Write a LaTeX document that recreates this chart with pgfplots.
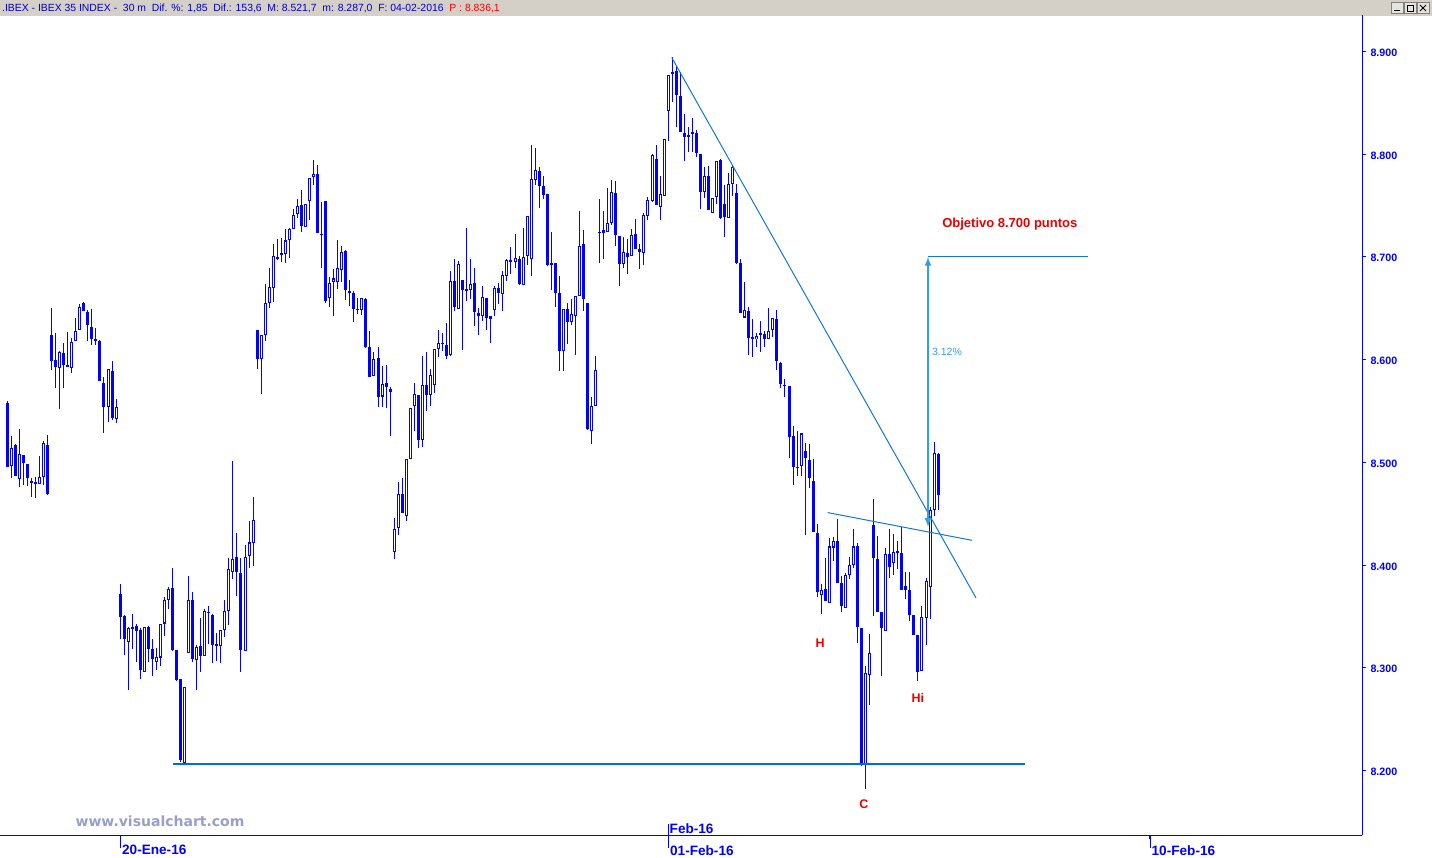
\documentclass[border=0pt]{standalone}
\usepackage{fontspec}
\setmainfont{Liberation Sans}
\newfontfamily\dejavu{DejaVu Sans}
\usepackage{pgfplots}
\usepackage{pgfplotstable}
\pgfplotsset{compat=1.18}
\definecolor{cblue}{RGB}{0,0,255}
\definecolor{tline}{RGB}{20,120,210}
\definecolor{sline}{RGB}{0,112,200}
\definecolor{lblue}{RGB}{51,160,230}
\definecolor{rred}{RGB}{230,0,0}
\definecolor{bargray}{RGB}{212,208,200}
\definecolor{wm}{RGB}{150,160,200}
\definecolor{ttl}{RGB}{0,0,200}

\pgfplotstableread{
i o h l c
0 8558 8560 8495 8495
1 8496 8526 8485 8514
2 8517 8518 8487 8487
3 8484 8532 8476 8508
4 8507 8507 8478 8499
5 8498 8498 8477 8485
6 8481 8485 8466 8481
7 8479 8486 8465 8481
8 8479 8506 8479 8486
9 8486 8521 8478 8519
10 8517 8527 8468 8469
11 8624 8650 8590 8599
12 8600 8626 8572 8593
13 8592 8608 8552 8607
14 8606 8616 8572 8595
15 8594 8627 8593 8594
16 8592 8621 8587 8617
17 8618 8640 8618 8628
18 8629 8654 8629 8651
19 8655 8656 8647 8647
20 8646 8648 8618 8634
21 8632 8649 8614 8620
22 8619 8631 8614 8619
23 8618 8619 8579 8579
24 8577 8583 8528 8554
25 8554 8591 8539 8591
26 8589 8599 8541 8543
27 8542 8562 8538 8554
28 8372 8381 8328 8349
29 8350 8351 8312 8328
30 8325 8340 8278 8339
31 8338 8352 8318 8340
32 8341 8343 8306 8336
33 8337 8339 8289 8298
34 8296 8340 8296 8340
35 8340 8341 8306 8318
36 8318 8328 8292 8309
37 8306 8319 8298 8310
38 8310 8343 8302 8343
39 8343 8369 8331 8366
40 8366 8379 8357 8377
41 8378 8397 8316 8317
42 8317 8317 8287 8288
43 8289 8289 8208 8210
44 8207 8281 8206 8281
45 8314 8389 8314 8366
46 8366 8374 8306 8308
47 8308 8322 8278 8320
48 8321 8348 8296 8311
49 8311 8357 8311 8355
50 8354 8360 8323 8354
51 8351 8352 8305 8322
52 8321 8334 8307 8323
53 8321 8337 8305 8337
54 8337 8366 8330 8355
55 8355 8407 8342 8396
56 8393 8501 8386 8406
57 8408 8431 8370 8393
58 8392 8407 8296 8317
59 8316 8420 8316 8408
60 8409 8443 8397 8422
61 8421 8466 8399 8444
62 8629 8629 8591 8601
63 8601 8624 8566 8624
64 8624 8674 8618 8655
65 8655 8689 8650 8671
66 8670 8712 8656 8701
67 8699 8717 8697 8699
68 8703 8718 8695 8703
69 8703 8727 8694 8716
70 8716 8728 8699 8727
71 8727 8747 8727 8741
72 8742 8756 8738 8750
73 8750 8765 8724 8730
74 8729 8752 8729 8752
75 8754 8777 8736 8777
76 8778 8794 8770 8781
77 8781 8789 8723 8723
78 8722 8753 8689 8722
79 8754 8754 8655 8657
80 8660 8680 8651 8675
81 8676 8688 8642 8679
82 8676 8716 8669 8689
83 8687 8711 8676 8705
84 8706 8707 8658 8668
85 8666 8678 8652 8666
86 8665 8667 8637 8649
87 8649 8660 8644 8649
88 8648 8660 8643 8660
89 8659 8660 8611 8612
90 8612 8628 8583 8583
91 8584 8607 8584 8601
92 8602 8612 8554 8564
93 8564 8594 8554 8576
94 8577 8595 8553 8573
95 8571 8573 8526 8568
96 8413 8446 8406 8435
97 8436 8481 8429 8469
98 8469 8485 8451 8451
99 8448 8503 8443 8503
100 8503 8553 8503 8553
101 8555 8577 8530 8566
102 8566 8566 8514 8522
103 8522 8604 8515 8575
104 8575 8607 8550 8565
105 8565 8591 8555 8585
106 8575 8610 8568 8610
107 8610 8629 8603 8616
108 8616 8626 8608 8616
109 8614 8636 8601 8604
110 8604 8686 8604 8676
111 8676 8698 8647 8651
112 8649 8696 8649 8693
113 8677 8677 8609 8668
114 8668 8728 8657 8668
115 8668 8698 8659 8674
116 8675 8689 8633 8646
117 8645 8650 8624 8642
118 8642 8672 8638 8661
119 8660 8660 8629 8641
120 8640 8642 8616 8642
121 8648 8672 8642 8670
122 8670 8675 8654 8665
123 8664 8686 8647 8682
124 8681 8698 8676 8697
125 8696 8710 8683 8696
126 8695 8722 8689 8699
127 8698 8701 8673 8674
128 8673 8728 8673 8700
129 8701 8740 8692 8740
130 8698 8809 8681 8776
131 8775 8806 8770 8785
132 8784 8788 8748 8769
133 8769 8779 8756 8760
134 8761 8761 8691 8692
135 8692 8724 8668 8694
136 8694 8694 8651 8665
137 8665 8681 8589 8608
138 8608 8649 8589 8649
139 8649 8655 8615 8637
140 8637 8659 8634 8644
141 8642 8662 8604 8662
142 8662 8745 8662 8711
143 8712 8726 8647 8659
144 8655 8655 8531 8532
145 8530 8564 8518 8555
146 8555 8603 8555 8590
147 8724 8756 8694 8724
148 8726 8745 8698 8723
149 8724 8767 8724 8733
150 8733 8775 8731 8763
151 8762 8774 8711 8721
152 8720 8720 8672 8693
153 8693 8719 8689 8705
154 8704 8717 8683 8700
155 8701 8727 8701 8721
156 8722 8737 8708 8708
157 8708 8712 8688 8705
158 8704 8743 8692 8741
159 8740 8758 8736 8755
160 8754 8800 8753 8799
161 8795 8809 8751 8751
162 8749 8779 8736 8761
163 8759 8815 8759 8815
164 8842 8877 8813 8877
165 8880 8895 8851 8878
166 8881 8886 8826 8858
167 8857 8880 8822 8822
168 8821 8839 8793 8817
169 8817 8826 8802 8819
170 8821 8835 8802 8820
171 8821 8823 8797 8801
172 8800 8800 8747 8763
173 8763 8788 8757 8779
174 8779 8788 8746 8746
175 8743 8757 8743 8757
176 8758 8793 8752 8793
177 8794 8795 8737 8738
178 8751 8770 8719 8739
179 8738 8782 8738 8771
180 8771 8789 8759 8788
181 8762 8771 8693 8694
182 8694 8698 8645 8645
183 8641 8675 8641 8648
184 8647 8651 8604 8621
185 8622 8639 8602 8621
186 8620 8626 8612 8623
187 8624 8638 8607 8626
188 8625 8628 8612 8620
189 8620 8650 8620 8628
190 8629 8640 8622 8640
191 8640 8648 8590 8599
192 8597 8598 8572 8576
193 8575 8581 8564 8575
194 8574 8574 8504 8525
195 8526 8535 8478 8495
196 8495 8531 8487 8495
197 8496 8528 8487 8528
198 8511 8519 8429 8504
199 8502 8518 8475 8485
200 8482 8503 8432 8432
201 8431 8440 8369 8374
202 8371 8382 8352 8376
203 8377 8407 8365 8365
204 8363 8426 8363 8418
205 8417 8427 8404 8423
206 8423 8445 8383 8383
207 8382 8389 8354 8360
208 8358 8392 8358 8390
209 8390 8408 8386 8400
210 8400 8435 8397 8418
211 8419 8421 8324 8340
212 8339 8339 8204 8206
213 8206 8302 8182 8295
214 8293 8333 8264 8314
215 8439 8464 8350 8407
216 8406 8428 8354 8354
217 8354 8354 8292 8339
218 8336 8417 8336 8411
219 8411 8435 8387 8398
220 8402 8430 8390 8413
221 8412 8423 8396 8414
222 8412 8437 8376 8376
223 8380 8393 8367 8376
224 8376 8393 8345 8351
225 8351 8351 8332 8332
226 8332 8332 8287 8296
227 8297 8360 8297 8349
228 8348 8387 8322 8384
229 8379 8456 8347 8454
230 8454 8520 8448 8509
231 8508 8509 8454 8468
}\candles

\begin{document}
\begin{tikzpicture}[x=1pt,y=1pt]
\useasboundingbox (0,0) rectangle (1432,857);
\fill[white] (0,0) rectangle (1432,857);
% title bar
\fill[bargray] (0,841) rectangle (1432,857);
\node[anchor=west, inner sep=0pt, font=\fontsize{10.4}{10.4}\selectfont, text=ttl] at (2,849)
 {.IBEX - IBEX 35 INDEX -\ \ 30 m\ \ Dif. \%: 1,85\ \ Dif.: 153,6\ \ M: 8.521,7\ \ m: 8.287,0\ \ F: 04-02-2016\ \ \textcolor{red}{P : 8.836,1}};
\foreach \bx in {1391,1404,1417}{
  \fill[bargray!60!white] (\bx,844) rectangle (\bx+12,855);
  \draw[gray] (\bx,844) rectangle (\bx+12,855);
}
\draw[black, line width=1pt] (1394,846.5) -- (1400,846.5);
\draw[black] (1407,846) rectangle (1413,852);
\draw[black, line width=0.9pt] (1420,846) -- (1426,852) (1420,852) -- (1426,846);

\begin{axis}[
  at={(0,21)}, anchor=south west, scale only axis,
  width=1362pt, height=820pt,
  xmin=-1.81, xmax=336.2, ymin=8136.7, ymax=8935,
  axis y line*=right, axis x line*=bottom,
  axis line style={cblue, line width=0.8pt, -},
  tick align=outside,
  ytick={8200,8300,8400,8500,8600,8700,8800,8900},
  scaled y ticks=false,
  /pgf/number format/.cd, fixed, precision=0, 1000 sep={.}, assume math mode=true,
  /pgfplots/.cd,
  yticklabel style={text=cblue, font=\bfseries\fontsize{10.7}{10.7}\selectfont, anchor=west, xshift=1pt, yshift=-1.5pt},
  ytick style={cblue, line width=0.8pt},
  major tick length=4pt,
  xtick={28,164,283.5},
  xticklabels={20-Ene-16,01-Feb-16,10-Feb-16},
  xticklabel style={text=cblue, font=\bfseries\fontsize{13.6}{13.6}\selectfont, anchor=north west, xshift=-1.5pt, yshift=-2.5pt},
  xtick style={cblue, line width=0.8pt},
  clip=false,
]
% wicks
\addplot[draw=none, forget plot, error bars/.cd, y dir=both, y explicit, error mark=none,
  error bar style={draw=cblue, line width=1pt}]
  table[x=i, y expr={(\thisrow{h}+\thisrow{l})/2}, y error expr={(\thisrow{h}-\thisrow{l})/2}] {\candles};
% bodies
\addplot[draw=none, forget plot, error bars/.cd, y dir=both, y explicit, error mark=none,
  error bar style={draw=cblue, line width=3pt, line cap=butt}]
  table[x=i, y expr={(\thisrow{o}+\thisrow{c})/2}, y error expr={max(abs(\thisrow{c}-\thisrow{o})/2,0.55)}] {\candles};
% hollow interiors (up candles)
\addplot[draw=none, forget plot, restrict expr to domain={\thisrow{c}-\thisrow{o}}{2.2:2000},
  error bars/.cd, y dir=both, y explicit, error mark=none,
  error bar style={draw=white, line width=1pt, line cap=butt}]
  table[x=i, y expr={(\thisrow{o}+\thisrow{c})/2}, y error expr={(\thisrow{c}-\thisrow{o})/2-1.0}] {\candles};

% annotation lines
\addplot[tline, line width=1pt] coordinates {(164.9,8894) (240.4,8368)};
\addplot[tline, line width=1pt] coordinates {(203.6,8451) (239.4,8424)};
\addplot[sline, line width=2pt] coordinates {(41.1,8206) (252.5,8206)};
\addplot[tline, line width=1pt] coordinates {(228.5,8700) (268.2,8700)};
\addplot[lblue, line width=2pt, <->, >=latex] coordinates {(228.5,8437) (228.5,8700)};

\node[text=lblue, font=\fontsize{10.5}{10.5}\selectfont] at (axis cs:233.2,8607) {3.12\%};
\node[text=rred, font=\bfseries\fontsize{13}{13}\selectfont] at (axis cs:248.8,8731.5) {Objetivo 8.700 puntos};
\node[text=rred, font=\bfseries\fontsize{12.5}{12.5}\selectfont] at (axis cs:201.7,8323.6) {H};
\node[text=rred, font=\bfseries\fontsize{12.5}{12.5}\selectfont] at (axis cs:226,8271) {Hi};
\node[text=rred, font=\bfseries\fontsize{12.5}{12.5}\selectfont] at (axis cs:212.6,8166.9) {C};
\end{axis}
% longer date ticks
\foreach \tx in {120.1,668.2,1149.9}{\draw[cblue, line width=0.8pt] (\tx,21) -- (\tx,9);}
% month marker
\draw[cblue, line width=0.8pt] (668.2,21) -- (668.2,33);
\node[anchor=west, inner sep=0pt, text=cblue, font=\bfseries\fontsize{13.6}{13.6}\selectfont] at (669.5,28) {Feb-16};
% watermark
\node[text=wm, font=\dejavu\bfseries\fontsize{14}{14}\selectfont] at (160,36) {www.visualchart.com};
\end{tikzpicture}
\end{document}
